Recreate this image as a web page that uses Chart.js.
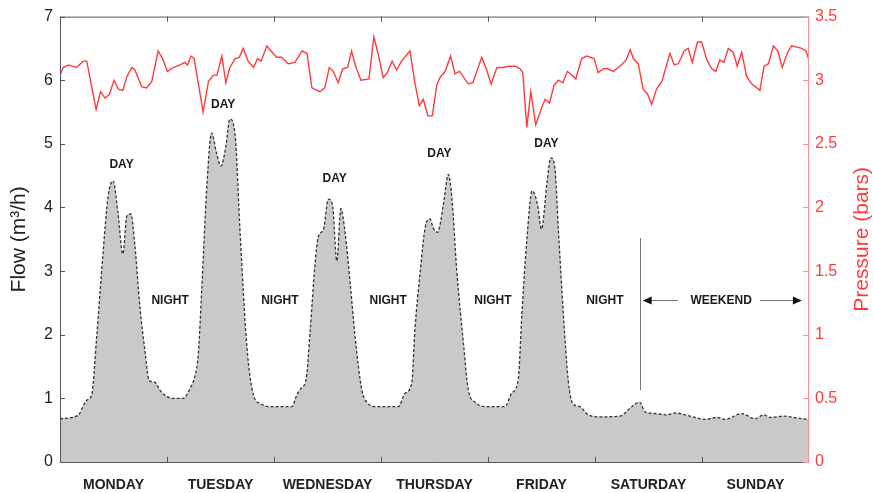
<!DOCTYPE html>
<html>
<head>
<meta charset="utf-8">
<script src="https://cdn.jsdelivr.net/npm/chart.js@4.4.1/dist/chart.umd.min.js"></script>
<style>
  html, body { margin: 0; padding: 0; background: #fff; }
  #wrap { width: 873px; height: 493px; position: relative; }
</style>
</head>
<body>
<div id="wrap"><canvas id="chart"></canvas></div>
<script>
// --- data (x in hours from Monday start) ---
const days = ['MONDAY', 'TUESDAY', 'WEDNESDAY', 'THURSDAY', 'FRIDAY', 'SATURDAY', 'SUNDAY'];
const dayBoundaries = [24, 48, 72, 96, 120, 144];
const flowTicks = [0, 1, 2, 3, 4, 5, 6, 7];
const pressureTicks = [0, 0.5, 1, 1.5, 2, 2.5, 3, 3.5];

const flowHours = [0,4,6,7.1,8.2,9.6,10.8,11.9,13,14.1,15,15.9,16.8,17.9,19.1,20,21.3,22.4,23.9,25.8,
  27.6,29.2,30.3,31,31.8,32.9,34,35.1,36.1,37.2,38.1,39.3,40.4,41.9,43.4,44.9,47.1,52,53.1,54.2,
  55.2,56.1,57.2,57.9,59.1,60.2,61.1,62.1,63,63.9,65.1,66.2,67.7,68.8,71,75.9,77.4,78.9,79.6,80.8,
  81.9,83,83.7,84.7,86,87.1,87.9,89,90.5,91.6,93.1,95.7,99.8,101.3,102.8,103.6,104.7,105.9,107.1,108,
  109.2,110.1,111,111.8,112.9,114,115,116.6,118.5,121.1,125.6,127.9,130,131.2,133.8,136.1,138,141.3,144.7,147.3,
  149.2,152.9,155.9,157.8,159.3,162.3,164.5,166.7,168];
const flowValues = [0.68,0.73,0.97,1.05,1.94,3.24,4.18,4.42,3.92,3.27,3.87,3.90,3.4,2.46,1.72,1.28,1.25,1.13,1.03,1.0,
  1.0,1.16,1.36,1.68,2.72,4.29,5.17,4.86,4.65,4.96,5.39,5.12,3.6,1.83,1.05,0.92,0.87,0.87,1.05,1.17,
  1.3,2.05,3.11,3.53,3.66,4.13,4.05,3.16,3.98,3.63,2.8,1.96,1.13,0.94,0.87,0.87,1.08,1.24,2.07,3.0,
  3.68,3.82,3.68,3.61,4.05,4.52,4.15,3.0,1.86,1.13,0.94,0.87,0.87,1.08,1.31,2.33,3.48,4.26,4.05,3.66,
  4.37,4.78,4.62,3.63,2.33,1.28,0.92,0.87,0.74,0.71,0.72,0.85,0.94,0.79,0.76,0.74,0.77,0.72,0.67,0.70,
  0.67,0.76,0.68,0.74,0.70,0.72,0.70,0.68,0.67];

const pressureHours = [0,0.7,1.9,3.7,5.2,6.0,7.1,8.1,9.1,10.1,11.1,12.1,13.1,14.1,15.0,16.1,16.8,18.3,19.4,20.6,
  22.0,23.0,24.1,25.4,26.9,28.0,28.6,29.4,30.1,31.0,32.1,33.3,34.4,35.2,36.3,37.2,38.1,39.3,40.2,41.1,
  42.2,43.4,44.3,45.1,46.4,47.3,48.6,49.7,51.2,52.7,54.3,55.4,56.5,58.3,59.4,60.4,61.3,62.4,63.4,64.5,
  65.4,66.4,67.5,69.3,70.4,71.4,72.5,73.4,74.5,75.5,76.6,78.5,79.6,80.6,81.5,82.5,83.5,84.5,85.2,86.4,
  87.6,88.6,89.6,91.6,92.6,94.6,95.7,96.7,98.0,99.4,100.6,102.1,103.2,103.8,104.7,105.6,106.7,107.8,108.8,109.8,
  110.8,111.8,112.8,113.8,114.8,115.7,117.0,118.1,119.8,120.7,121.9,122.8,124.1,125.6,127.0,127.9,128.6,129.7,130.8,131.8,
  132.7,133.8,135.0,136.8,137.8,138.7,140.0,140.9,141.8,143.0,143.9,145.1,146.2,147.1,148.0,148.9,149.9,151.0,151.9,152.9,
  154.0,155.2,157.0,157.9,158.9,160.0,161.0,162.0,163.1,164.1,165.3,166.4,167.3,168];
const pressureValues = [3.04,3.10,3.12,3.10,3.15,3.15,2.95,2.77,2.91,2.86,2.89,3.00,2.93,2.92,3.03,3.10,3.08,2.95,2.94,2.99,
  3.23,3.17,3.07,3.10,3.12,3.14,3.12,3.19,3.17,2.98,2.75,2.99,3.04,3.04,3.19,2.98,3.10,3.17,3.18,3.25,
  3.15,3.10,3.17,3.15,3.27,3.23,3.18,3.18,3.13,3.14,3.23,3.21,2.94,2.91,2.94,3.10,3.07,2.98,3.09,3.10,
  3.23,3.10,3.00,3.01,3.34,3.20,3.02,3.06,3.15,3.08,3.15,3.23,2.98,2.80,2.85,2.72,2.72,2.96,3.02,3.07,
  3.19,3.05,3.07,2.97,2.98,3.18,3.08,2.97,3.10,3.10,3.11,3.11,3.09,3.06,2.63,2.91,2.65,2.76,2.85,2.82,
  2.96,3.00,2.98,3.07,3.04,3.01,3.17,3.19,3.17,3.06,3.09,3.09,3.07,3.11,3.16,3.24,3.17,3.13,2.93,2.89,
  2.81,2.93,2.99,3.21,3.12,3.13,3.23,3.25,3.14,3.30,3.30,3.16,3.09,3.07,3.16,3.14,3.25,3.22,3.11,3.22,
  3.03,2.97,2.92,3.11,3.13,3.27,3.23,3.10,3.21,3.27,3.26,3.25,3.23,3.16];

// annotation anchors, in hours / flow units
const dayNotes = [[13.8, 4.67], [36.6, 5.62], [61.6, 4.45], [85.1, 4.84], [109.1, 5.01]];
const nightNotes = [24.7, 49.3, 73.6, 97.1, 122.2];
const noteLevel = 2.54;

const FONT = "'Liberation Sans', Arial, sans-serif";
const RED = '#ff3b3b';

const flowData = flowHours.map((h, i) => ({ x: h, y: flowValues[i] }));
const pressureData = pressureHours.map((h, i) => ({ x: h, y: pressureValues[i] }));

function line(ctx, x1, y1, x2, y2) {
  ctx.beginPath(); ctx.moveTo(x1, y1); ctx.lineTo(x2, y2); ctx.stroke();
}

function arrowHead(ctx, tipX, y, dir) {
  ctx.beginPath();
  ctx.moveTo(tipX, y);
  ctx.lineTo(tipX - dir * 9, y - 4);
  ctx.lineTo(tipX - dir * 9, y + 4);
  ctx.closePath();
  ctx.fill();
}

const overlay = {
  id: 'overlay',
  afterDatasetsDraw(chart) {
    const { ctx, chartArea: a, scales } = chart;
    const x = scales.x, y = scales.y, y2 = scales.y2;
    ctx.save();

    // frame
    ctx.lineWidth = 1;
    ctx.strokeStyle = '#555';
    line(ctx, a.left, a.top + 0.5, a.right, a.top + 0.5);
    line(ctx, a.left, a.bottom + 0.5, a.right, a.bottom + 0.5);
    line(ctx, a.left + 0.5, a.top, a.left + 0.5, a.bottom + 1);
    dayBoundaries.forEach(h => {
      const px = Math.round(x.getPixelForValue(h)) + 0.5;
      line(ctx, px, a.bottom, px, a.bottom - 5);
      line(ctx, px, a.top, px, a.top + 5);
    });
    flowTicks.forEach(v => {
      const py = Math.round(y.getPixelForValue(v)) + 0.5;
      line(ctx, a.left, py, a.left + 5, py);
    });
    ctx.strokeStyle = '#ff8f8f';
    line(ctx, a.right - 0.5, a.top, a.right - 0.5, a.bottom + 1);
    pressureTicks.forEach(v => {
      const py = Math.round(y2.getPixelForValue(v)) + 0.5;
      line(ctx, a.right, py, a.right - 6, py);
    });

    // DAY / NIGHT / WEEKEND notes
    ctx.fillStyle = '#1a1a1a';
    ctx.font = 'bold 12px ' + FONT;
    ctx.textAlign = 'center';
    ctx.textBaseline = 'middle';
    dayNotes.forEach(([h, v]) => ctx.fillText('DAY', x.getPixelForValue(h), y.getPixelForValue(v)));
    const ny = y.getPixelForValue(noteLevel);
    nightNotes.forEach(h => ctx.fillText('NIGHT', x.getPixelForValue(h), ny));
    ctx.fillText('WEEKEND', x.getPixelForValue(148.3), ny);

    // weekend marker and arrows
    ctx.strokeStyle = '#777';
    const vx = Math.round(x.getPixelForValue(130.1)) + 0.5;
    line(ctx, vx, y.getPixelForValue(3.52), vx, y.getPixelForValue(1.13));
    const ay = Math.round(ny) + 0.5;
    line(ctx, x.getPixelForValue(138.6), ay, x.getPixelForValue(131.5), ay);
    line(ctx, x.getPixelForValue(157.0), ay, x.getPixelForValue(165.5), ay);
    ctx.fillStyle = '#111';
    arrowHead(ctx, x.getPixelForValue(130.7), ay, -1);
    arrowHead(ctx, x.getPixelForValue(166.4), ay, 1);

    // right-hand title, reading bottom to top
    ctx.save();
    ctx.translate(862, (a.top + a.bottom) / 2);
    ctx.rotate(-Math.PI / 2);
    ctx.fillStyle = RED;
    ctx.font = '21px ' + FONT;
    ctx.textAlign = 'center';
    ctx.textBaseline = 'middle';
    ctx.fillText('Pressure (bars)', 0, 0);
    ctx.restore();

    ctx.restore();
  }
};

new Chart(document.getElementById('chart'), {
  type: 'line',
  data: {
    datasets: [
      {
        label: 'Pressure',
        data: pressureData,
        yAxisID: 'y2',
        borderColor: RED,
        borderWidth: 1.4,
        pointRadius: 0,
        fill: false,
        tension: 0
      },
      {
        label: 'Flow',
        data: flowData,
        yAxisID: 'y',
        borderColor: '#333',
        borderWidth: 1.3,
        borderDash: [3, 2],
        backgroundColor: '#c9c9c9',
        pointRadius: 0,
        fill: 'origin',
        cubicInterpolationMode: 'monotone'
      }
    ]
  },
  options: {
    responsive: true,
    maintainAspectRatio: false,
    animation: false,
    layout: { padding: { top: 15, right: 0, left: 0, bottom: 0 } },
    plugins: { legend: { display: false }, tooltip: { enabled: false } },
    scales: {
      x: {
        type: 'linear',
        min: 0, max: 168,
        grid: { display: false, drawTicks: false },
        border: { display: false },
        afterFit: s => { s.height = 31; },
        afterBuildTicks: s => {
          s.ticks = days.map((d, i) => ({ value: 12 + 24 * i }));
        },
        ticks: {
          autoSkip: false,
          maxRotation: 0,
          padding: 15,
          color: '#222',
          font: { family: FONT, size: 14, weight: 'bold' },
          callback: v => days[(v - 12) / 24]
        }
      },
      y: {
        position: 'left',
        min: 0, max: 7,
        grid: { display: false, drawTicks: false },
        border: { display: false },
        afterFit: s => { s.width = 60; },
        ticks: {
          stepSize: 1,
          padding: 7,
          color: '#222',
          font: { family: FONT, size: 16 }
        },
        title: {
          display: true,
          text: 'Flow (m³/h)',
          color: '#222',
          font: { family: FONT, size: 21 },
          padding: { top: 7, bottom: 0 }
        }
      },
      y2: {
        position: 'right',
        min: 0, max: 3.5,
        grid: { display: false, drawTicks: false },
        border: { display: false },
        afterFit: s => { s.width = 64; },
        ticks: {
          stepSize: 0.5,
          padding: 6,
          color: RED,
          font: { family: FONT, size: 16 },
          callback: v => String(v)
        }
      }
    }
  },
  plugins: [overlay]
});
</script>
</body>
</html>
